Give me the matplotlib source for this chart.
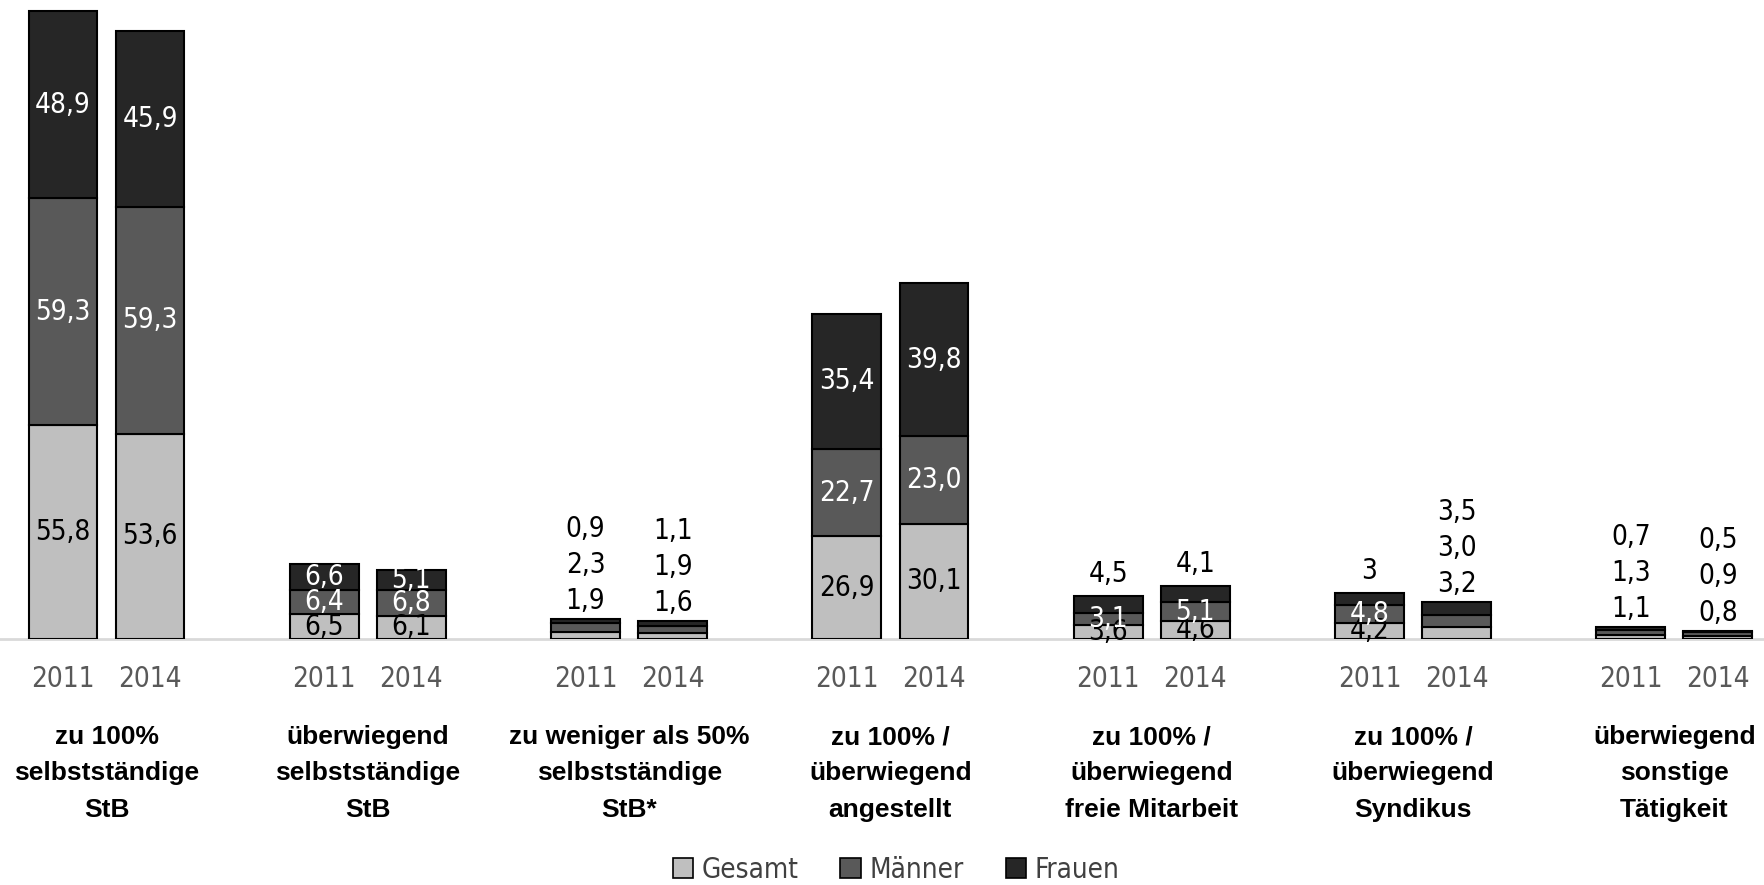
import numpy as np
import matplotlib
matplotlib.use('Agg')
from matplotlib import pyplot as plt
from matplotlib.patches import Patch
from matplotlib.font_manager import FontProperties

# data (German number format, as printed in the chart)
groups = ['zu 100%\nselbstständige\nStB',
          'überwiegend\nselbstständige\nStB',
          'zu weniger als 50%\nselbstständige\nStB*',
          'zu 100% /\nüberwiegend\nangestellt',
          'zu 100% /\nüberwiegend\nfreie Mitarbeit',
          'zu 100% /\nüberwiegend\nSyndikus',
          'überwiegend\nsonstige\nTätigkeit']
years = ['2011', '2014']
gesamt = ['55,8', '53,6', '6,5', '6,1', '1,9', '1,6', '26,9', '30,1',
          '3,6', '4,6', '4,2', '3,2', '1,1', '0,8']
maenner = ['59,3', '59,3', '6,4', '6,8', '2,3', '1,9', '22,7', '23,0',
           '3,1', '5,1', '4,8', '3,0', '1,3', '0,9']
frauen = ['48,9', '45,9', '6,6', '5,1', '0,9', '1,1', '35,4', '39,8',
          '4,5', '4,1', '3', '3,5', '0,7', '0,5']
series = ['Gesamt', 'Männer', 'Frauen']

colors = ['#bfbfbf', '#595959', '#262626']
txt_colors = ['black', 'white', 'white']

# condensed face for numbers, legend, years
narrow = FontProperties(family='DejaVu Sans', stretch='condensed', size=20)
bold = ['Liberation Sans', 'DejaVu Sans']


def to_num(lst):
    return np.array([float(s.replace(',', '.')) for s in lst])


vals = [to_num(gesamt), to_num(maenner), to_num(frauen)]
labels = [gesamt, maenner, frauen]

fig = plt.figure(figsize=(17.64, 8.85), dpi=100)
ax = fig.add_axes([0, (885 - 639) / 885, 1, 639 / 885])

n = len(groups)
xpos = np.array([[3 * i - 0.5, 3 * i + 0.5] for i in range(n)]).ravel()
width = 0.79

bottom = np.zeros(len(xpos))
for k in range(3):
    ax.bar(xpos, vals[k], width, bottom=bottom, color=colors[k],
           edgecolor='black', linewidth=1.5, zorder=3)
    bottom = bottom + vals[k]
total = bottom

# value labels: inside the segments, or stacked above small bars
for j in range(len(xpos)):
    if total[j] < 10:
        outside = [0, 1, 2]
    elif vals[2][j] < 5:
        outside = [2]
    else:
        outside = []
    b = 0
    for k in range(3):
        v = vals[k][j]
        if k not in outside:
            ax.text(xpos[j], b + v / 2, labels[k][j], ha='center', va='center',
                    color=txt_colors[k], fontproperties=narrow, zorder=4)
        b += v
    for i, k in enumerate(outside):
        off = 13 + 26 * i if len(outside) > 1 else 16
        ax.annotate(labels[k][j], xy=(xpos[j], total[j]), xytext=(0, off),
                    textcoords='offset points', ha='center', va='center',
                    color='black', fontproperties=narrow)

ax.set_xlim(-1.223, 19.03)
ax.set_ylim(0, 166.9)
ax.set_xticks(xpos)
ax.set_xticklabels(years * n, fontproperties=narrow, color='#595959')
ax.tick_params(axis='x', length=0, pad=19)
ax.set_yticks([])
for s in ['top', 'left', 'right']:
    ax.spines[s].set_visible(False)
ax.spines['bottom'].set_color('#d9d9d9')
ax.spines['bottom'].set_linewidth(2)

for i, g in enumerate(groups):
    ax.annotate(g, xy=(3 * i, 0), xytext=(0, -62), textcoords='offset points',
                ha='center', va='top', fontsize=19, fontweight='bold',
                family=bold, linespacing=1.65)

handles = [Patch(facecolor=colors[k], edgecolor='black', linewidth=1.2)
           for k in range(3)]
leg = fig.legend(handles, series, loc='center', bbox_to_anchor=(0.508, 0.017),
                 ncol=3, frameon=False, handlelength=0.75, handleheight=0.75,
                 handletextpad=0.3, columnspacing=1.5, prop=narrow)
for t in leg.get_texts():
    t.set_color('#404040')

fig.savefig('out.png', dpi=100)
